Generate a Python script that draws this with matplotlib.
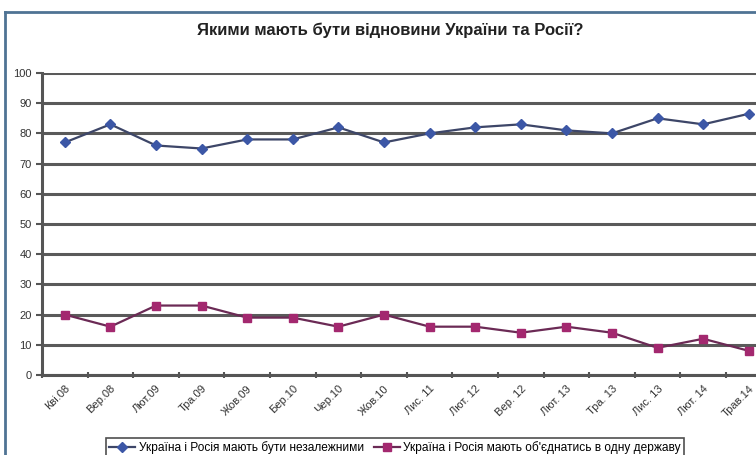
import matplotlib
matplotlib.use("Agg")
from matplotlib import pyplot as plt
from matplotlib.lines import Line2D

months = ["Кві.08", "Вер.08", "Лют.09", "Тра.09", "Жов.09", "Бер.10", "Чер.10", "Жов.10",
          "Лис. 11", "Лют. 12", "Вер. 12", "Лют. 13", "Тра. 13", "Лис. 13", "Лют. 14", "Трав.14"]
independent = [77, 83, 76, 75, 78, 78, 82, 77, 80, 82, 83, 81, 80, 85, 83, 86.5]
united = [20, 16, 23, 23, 19, 19, 16, 20, 16, 16, 14, 16, 14, 9, 12, 8]

label_ind = "Україна і Росія мають бути незалежними"
label_uni = "Україна і Росія мають об'єднатись в одну державу"

plt.rcParams['font.family'] = ['Liberation Sans Narrow', 'Liberation Sans', 'DejaVu Sans']

fig = plt.figure(figsize=(7.56, 4.55), dpi=100)
ax = fig.add_axes([42/756, 1 - 375/455, 16*45.6/756, 302/455])

x = list(range(len(months)))
ax.plot(x, independent, color="#3d4668", lw=1.6, marker="D", ms=5,
        mfc="#3c57a6", mec="#3c57a6", label=label_ind, zorder=3)
ax.plot(x, united, color="#6b2a55", lw=1.6, marker="s", ms=6,
        mfc="#a3286f", mec="#a3286f", label=label_uni, zorder=3)

ax.set_xlim(-0.5, len(months) - 0.5)
ax.set_ylim(0, 100)
ax.set_yticks(range(0, 101, 10))
ax.yaxis.grid(True, color="#5a5a5a", lw=2.2)
ax.set_axisbelow(True)
for s in ["top", "right"]:
    ax.spines[s].set_visible(False)
ax.spines["left"].set_color("#555555")
ax.spines["left"].set_linewidth(2.2)
ax.spines["bottom"].set_color("#555555")
ax.spines["bottom"].set_linewidth(2.2)

ax.set_xticks([i - 0.5 for i in range(len(months))], minor=False)
ax.set_xticklabels([])
ax.set_xticks(x, minor=True)
ax.set_xticklabels(months, minor=True, rotation=45, ha="right", rotation_mode="anchor",
                   fontsize=8, color="#333333")
ax.tick_params(axis="x", which="major", length=4, width=1.5, color="#555555", direction="inout")
ax.tick_params(axis="x", which="minor", length=0, pad=6)
ax.tick_params(axis="y", length=4, width=1.5, color="#555555", labelsize=8, labelcolor="#333333")

fig.text(390/756, 1 - 30/455, "Якими мають бути відновини України та Росії?",
         ha="center", va="center", fontsize=12, fontweight="bold", color="#222222")

# frame of the chart area
frame_color = "#4f7394"
fig.add_artist(Line2D([5/756, 5/756], [0, 1 - 12/455], color=frame_color, lw=2))
fig.add_artist(Line2D([5/756, 1], [1 - 12/455, 1 - 12/455], color=frame_color, lw=2))

leg = fig.legend(loc="upper left", bbox_to_anchor=(100/756, 1 - 432/455), ncol=2,
                 fontsize=8.6, frameon=True, fancybox=False, edgecolor="#222222",
                 handlelength=2.2, borderpad=0.25, columnspacing=0.8, handletextpad=0.3)
leg.get_frame().set_linewidth(1.2)

fig.savefig("out.png", dpi=100)
